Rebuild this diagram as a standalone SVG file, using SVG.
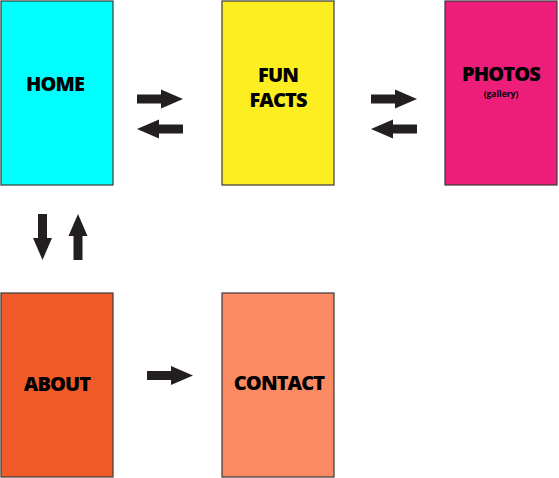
<svg xmlns="http://www.w3.org/2000/svg" width="559" height="478" viewBox="0 0 559 478">
  <style>
    .box { stroke: #3a3a3a; stroke-width: 1.2; }
    .label { font-family: "Open Sans", "Noto Sans", sans-serif; font-weight: 800; font-size: 20px; letter-spacing: -0.9px; fill: #000; text-anchor: middle; }
    .small { font-family: "Open Sans", "Noto Sans", sans-serif; font-weight: bold; font-size: 8.5px; fill: #000; text-anchor: middle; }
    .arrow { fill: #231f20; }
  </style>
  <defs>
    <!-- right-pointing block arrow, 46 long -->
    <path id="arr" d="M0,-4.5 H24 V-9.5 L46,0 L24,9.5 V4.5 H0 Z"/>
  </defs>
  <rect width="559" height="478" fill="#fff"/>

  <g id="home">
    <rect class="box" x="1" y="1" width="112" height="184" fill="#00ffff"/>
    <text class="label" x="55" y="91">HOME</text>
  </g>
  <g id="funfacts">
    <rect class="box" x="222" y="1" width="112" height="184" fill="#fdee21"/>
    <text class="label" x="278" y="82">FUN</text>
    <text class="label" x="278" y="107">FACTS</text>
  </g>
  <g id="photos">
    <rect class="box" x="445" y="1" width="112" height="184" fill="#ec1e79"/>
    <text class="label" x="501" y="81">PHOTOS</text>
    <text class="small" x="501" y="97">(gallery)</text>
  </g>
  <g id="about">
    <rect class="box" x="1" y="293" width="112" height="184" fill="#f15a29"/>
    <text class="label" x="57" y="391">ABOUT</text>
  </g>
  <g id="contact">
    <rect class="box" x="222" y="293" width="112" height="184" fill="#fc8a62"/>
    <text class="label" x="279" y="390">CONTACT</text>
  </g>

  <g id="connectors" class="arrow">
    <use href="#arr" transform="translate(137,99)"/>
    <use href="#arr" transform="translate(183,129) rotate(180)"/>
    <use href="#arr" transform="translate(371,99)"/>
    <use href="#arr" transform="translate(417,129) rotate(180)"/>
    <use href="#arr" transform="translate(42.5,214) rotate(90)"/>
    <use href="#arr" transform="translate(78,260) rotate(-90)"/>
    <use href="#arr" transform="translate(147,375.5)"/>
  </g>
</svg>
